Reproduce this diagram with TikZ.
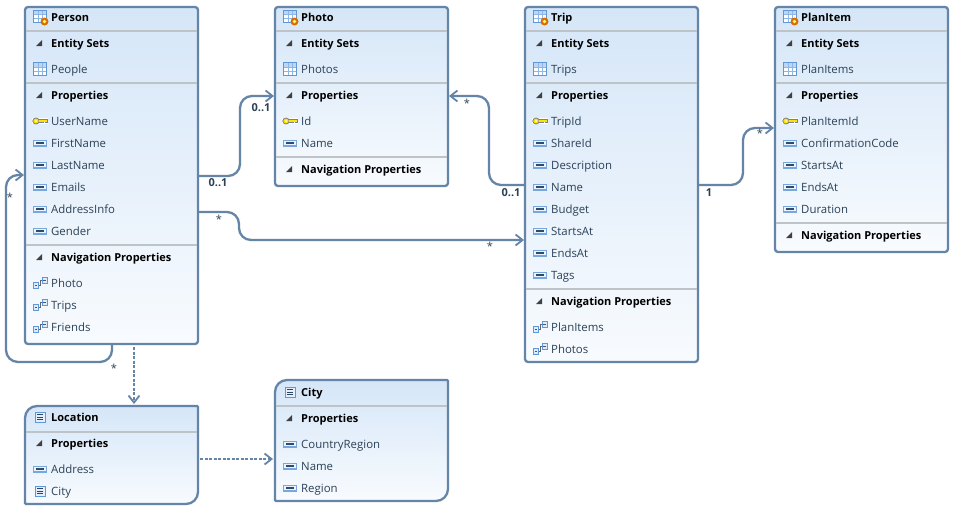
\documentclass[tikz,border=0pt]{standalone}
\usepackage{fontspec}
\setmainfont{Open Sans}
\usetikzlibrary{arrows.meta}
\definecolor{edge}{HTML}{6484A8}
\definecolor{topc}{HTML}{D5E6F8}
\definecolor{botc}{HTML}{F8FBFE}
\definecolor{sepc}{HTML}{BDC3C6}
\definecolor{txtc}{HTML}{2B4157}
\definecolor{icb}{HTML}{5F97D8}
\definecolor{icl}{HTML}{BBD7F5}
\tikzset{
 x=1pt,y=-1pt,
 boxframe/.style={draw=edge,line width=2.3pt,top color=topc,bottom color=botc},
 anchorbox/.style={anchor=north west,inner sep=0pt,outer sep=0pt,minimum width=173pt},
 base/.style={anchor=base west,inner sep=0pt,font=\fontsize{11.4}{13}\selectfont},
 txtT/.style={base,font=\fontsize{11}{13}\selectfont\bfseries,text=black},
 txtCT/.style={txtT},
 txtH/.style={txtT},
 txtS/.style={base,text=txtc},
 txtK/.style={txtS},txtP/.style={txtS},txtN/.style={txtS},txtC/.style={txtS},
 link/.style={draw=edge,line width=2.3pt,rounded corners=12pt,-{Straight Barb[length=7pt,width=11pt,line width=1.8pt]}},
 dlink/.style={draw=edge,line width=2.3pt,dash pattern=on 3pt off 1.5pt,-{Straight Barb[length=7pt,width=11pt,line width=1.8pt,sep=0pt]}},
 mult/.style={inner sep=0pt,font=\fontsize{11}{13}\selectfont\bfseries,text=txtc},
 star/.style={inner sep=0pt,font=\fontsize{11}{13}\selectfont,text=txtc},
 pics/icH/.style={code={\fill[black!75] (3,3)--(9,3)--(9,-3)--cycle;}},
 pics/icS/.style={code={
   \draw[icb,fill=white,line width=.8pt] (0.5,-6.5) rectangle (13.5,6.5);
   \fill[icl] (1,-6)rectangle(13,-2);
   \draw[icb!70,line width=.6pt] (5,-6)--(5,6) (9,-6)--(9,6) (1,-2)--(13,-2) (1,2)--(13,2);}},
 pics/icT/.style={code={
   \draw[icb,fill=white,line width=.8pt] (0.5,-7)rectangle(13.5,5.5);
   \fill[icl] (1,-6.5)rectangle(13,-3);
   \draw[icb!70,line width=.6pt] (5,-6)--(5,5) (9,-6)--(9,5) (1,-3)--(13,-3) (1,1)--(13,1);
   \fill[orange!85!black] (11.5,4.5) circle (4pt);
   \fill[yellow!60] (11.5,4.5) circle (1.8pt);}},
 pics/icK/.style={code={
   \fill[black!50!yellow] (-1,-3.4) rectangle (14.5,3.4);
   \fill[white] (-1,-3.4) rectangle (14.5,3.4);
   \draw[black!50,fill=yellow!85!orange,line width=.8pt] (3,0) ellipse (3.2pt and 3pt);
   \fill[yellow!85!orange] (5.5,-1.7) rectangle (14,1.2);
   \draw[black!50,line width=.7pt] (5.8,-1.7)--(14,-1.7)--(14,1.6)--(12,1.6) (10.5,1.6)--(5.8,1.6);
   \fill[white] (3,0) circle (1pt);}},
 pics/icP/.style={code={
   \fill[icb!85] (0,-3.5) rectangle (14,3.5);
   \fill[white!70!icl] (1,-2.2) rectangle (13,2.4);
   \fill[black!50!icb] (3,-.7) rectangle (11,.7);}},
 pics/icC/.style={code={
   \draw[icb,fill=white!60!icl,line width=1pt] (2,-5) rectangle (12,5);
   \draw[black!55!icb,line width=.8pt] (4,-2.5)--(10,-2.5) (4,0)--(10,0) (4,2.5)--(10,2.5);}},
 pics/icCT/.style={icC},
 pics/icN/.style={code={
   \draw[black!60,line width=.9pt] (5,2)--(7,2)--(7,-3)--(9,-3);
   \draw[icb,fill=white!50!icl,line width=1pt] (0.5,-.5) rectangle (5.5,5.5);
   \draw[icb,fill=white!50!icl,line width=1pt] (9,-5.5) rectangle (14,.5);
   \draw[icb!60!black,line width=.6pt] (1.8,2.5)--(4.2,2.5) (10.3,-2.5)--(12.7,-2.5);}},
}
% box: name, x, top, bottom, radius a, radius b, rows, separators
\newcommand{\entbox}[8]{%
  \pgfmathsetmacro{\xr}{#2+173}\pgfmathsetmacro{\hh}{#4-#3}\pgfmathsetmacro{\ym}{(#3+#4)/2}\pgfmathsetmacro{\xm}{#2+86}
  \draw[boxframe] (#2,\ym) [rounded corners=#5pt] -- (#2,#3) -- (\xm,#3) [rounded corners=#6pt] -- (\xr,#3) -- (\xr,\ym) [rounded corners=#5pt] -- (\xr,#4) -- (\xm,#4) [rounded corners=#6pt] -- (#2,#4) -- cycle;
  \node[anchorbox,minimum height=\hh pt] (#1) at (#2,#3) {};
  \foreach \s in {#8} {\draw[sepc,line width=1.2pt] (#2+1,\s) -- (\xr-1,\s);}
  \foreach \yy/\kk/\tt in {#7} {
    \pic at (#2+8,\yy) {ic\kk};
    \node[txt\kk] (#1-\yy) at (#2+26,\yy+4) {\tt};
  }
}
\begin{document}
\begin{tikzpicture}
\useasboundingbox (0,0) rectangle (959,514);
\fill[white] (0,0) rectangle (959,514);

\entbox{person}{25}{7}{344}{3}{3}{17/T/Person,43/H/Entity Sets,69/S/People,95/H/Properties,121/K/UserName,143/P/FirstName,165/P/LastName,187/P/Emails,209/P/AddressInfo,231/P/Gender,257/H/Navigation Properties,283/N/Photo,305/N/Trips,327/N/Friends}{31,83,245}
\entbox{photo}{275}{7}{186}{3}{3}{17/T/Photo,43/H/Entity Sets,69/S/Photos,95/H/Properties,121/K/Id,143/P/Name,169/H/Navigation Properties}{31,83,157}
\entbox{trip}{525}{7}{362}{3}{3}{17/T/Trip,43/H/Entity Sets,69/S/Trips,95/H/Properties,121/K/TripId,143/P/ShareId,165/P/Description,187/P/Name,209/P/Budget,231/P/StartsAt,253/P/EndsAt,275/P/Tags,301/H/Navigation Properties,327/N/PlanItems,349/N/Photos}{31,83,289}
\entbox{planitem}{775}{7}{252}{3}{3}{17/T/PlanItem,43/H/Entity Sets,69/S/PlanItems,95/H/Properties,121/K/PlanItemId,143/P/ConfirmationCode,165/P/StartsAt,187/P/EndsAt,209/P/Duration,235/H/Navigation Properties}{31,83,223}
\entbox{location}{25}{406}{504}{12}{1}{417/CT/Location,443/H/Properties,469/P/Address,491/C/City}{432}
\entbox{city}{275}{380}{501}{12}{1}{392/CT/City,418/H/Properties,444/P/CountryRegion,466/P/Name,488/P/Region}{406}

% connectors
\draw[link] ([yshift=-169pt]person.north east) -- (240,176) -- (240,96) -- ([yshift=-89pt,xshift=-1pt]photo.north west);
\draw[link] ([yshift=-178pt]trip.north west) -- (489,185) -- (489,96) -- ([yshift=-89pt,xshift=1pt]photo.north east);
\draw[link] ([yshift=-178pt]trip.north east) -- (743,185) -- (743,128) -- ([yshift=-121pt,xshift=-1pt]planitem.north west);
\draw[link] ([yshift=-205pt]person.north east) -- (239,212) -- (239,240) -- ([yshift=-233pt,xshift=-1pt]trip.north west);
\draw[link] ([xshift=87pt]person.south west) -- (112,362) -- (6,362) -- (6,175) -- ([yshift=-168pt,xshift=-1pt]person.north west);
\draw[dlink] ([xshift=109pt,yshift=-3pt]person.south west) -- ([xshift=109pt,yshift=2pt]location.north west);
\draw[dlink] ([xshift=2pt,yshift=-53pt]location.north east) -- ([xshift=-2pt,yshift=-79pt]city.north west);

% multiplicities
\node[mult] (m1) at (218,183) {0..1};
\node[mult] (m2) at (261,108) {0..1};
\node[mult] (m3) at (511,193) {0..1};
\node[star] (m4) at (467,103) {*};
\node[mult] (m5) at (709,193) {1};
\node[star] (m6) at (760,133) {*};
\node[star] (m7) at (219,219) {*};
\node[star] (m8) at (490,246) {*};
\node[star] (m9) at (114,368) {*};
\node[star] (m10) at (10,197) {*};
\end{tikzpicture}
\end{document}
